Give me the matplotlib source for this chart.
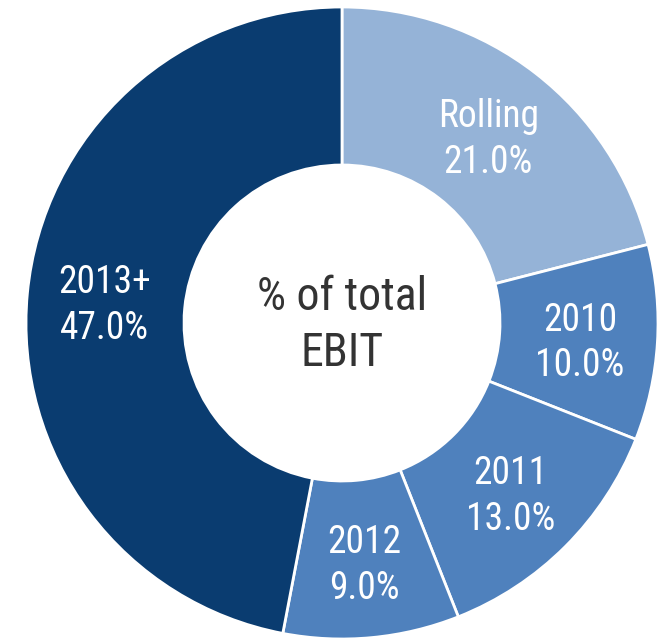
import matplotlib
matplotlib.use("Agg")
import matplotlib.pyplot as plt
from matplotlib.transforms import offset_copy

categories = ["Rolling", "2010", "2011", "2012", "2013+"]
shares = [21.0, 10.0, 13.0, 9.0, 47.0]
colors = ["#95B3D7", "#4F81BD", "#4F81BD", "#4F81BD", "#0A3C70"]
center_text = "% of total\nEBIT"

plt.rcParams["font.family"] = ["Roboto Condensed", "DejaVu Sans"]

W, H = 662, 639
fig = plt.figure(figsize=(W / 100, H / 100), dpi=100)
ax = fig.add_axes([26 / W, 0.0, 632 / W, 632 / H])

labels = [f"{c}\n{v:.1f}%" for c, v in zip(categories, shares)]
wedges, texts = ax.pie(
    shares,
    colors=colors,
    labels=labels,
    startangle=90,
    counterclock=False,
    radius=1.0,
    labeldistance=0.755,
    wedgeprops=dict(width=0.5, edgecolor="white", linewidth=2),
    textprops=dict(color="white", fontsize=27, ha="center", va="center",
                   linespacing=1.3),
)
# nudge the two-line labels down a little so they sit optically centred
label_shift = offset_copy(ax.transData, fig=fig, x=0, y=-5, units="dots")
for t in texts:
    t.set_horizontalalignment("center")
    t.set_transform(label_shift)

ax.text(0, 0, center_text, ha="center", va="center", fontsize=33,
        color="#333333", linespacing=1.35,
        transform=offset_copy(ax.transData, fig=fig, x=0, y=-2, units="dots"))

ax.set_xlim(-1, 1)
ax.set_ylim(-1, 1)
ax.set_aspect("equal")
ax.axis("off")

fig.savefig("out.png", dpi=100)
